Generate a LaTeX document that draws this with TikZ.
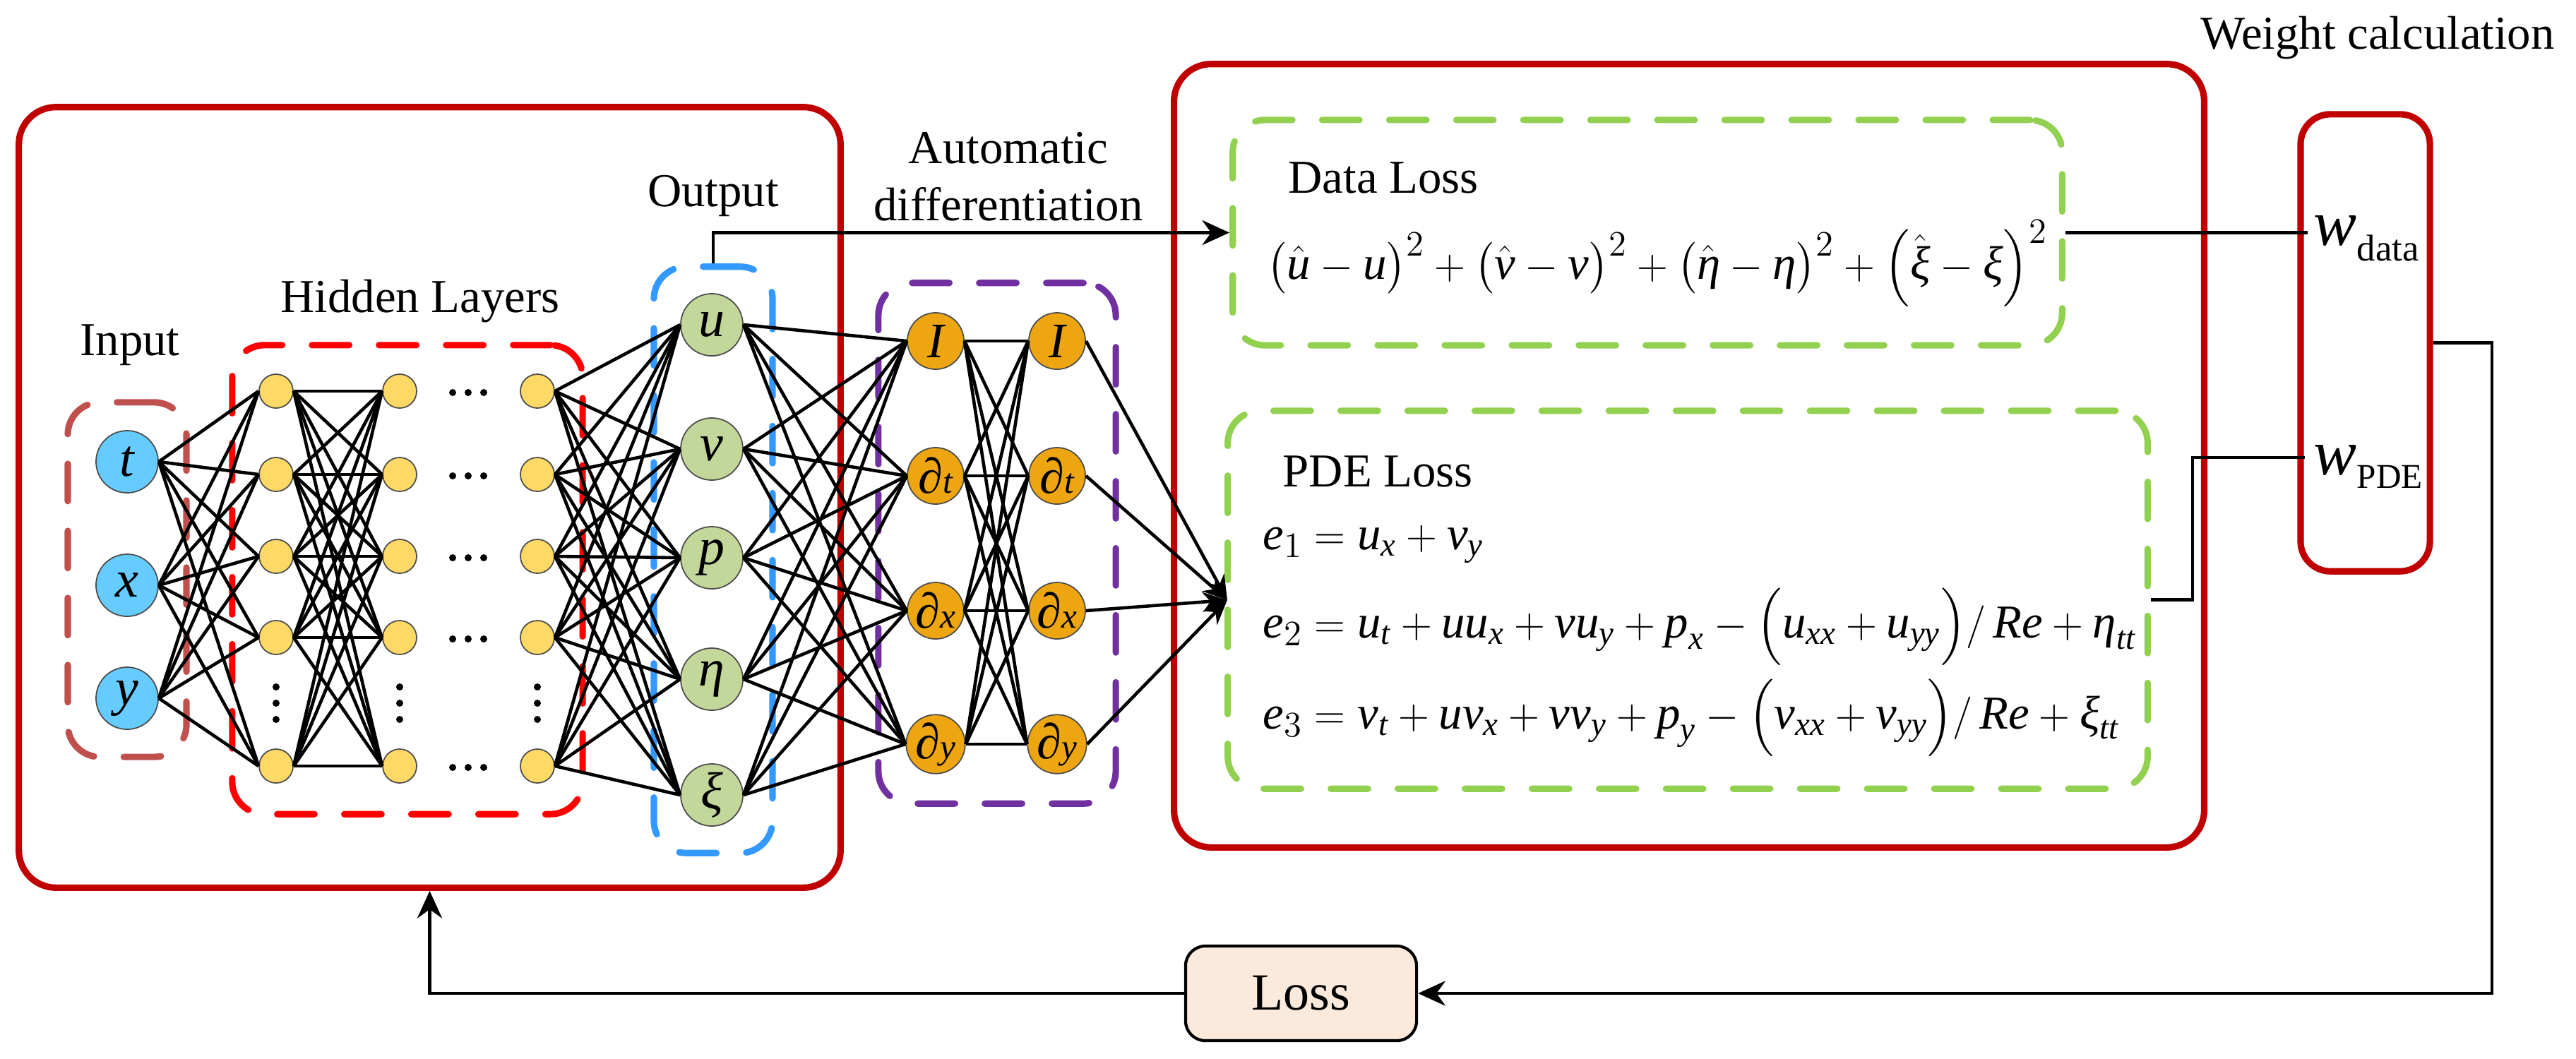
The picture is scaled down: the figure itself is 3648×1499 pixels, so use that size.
\documentclass[tikz,border=0pt]{standalone}
\usepackage{amsmath}
\usepackage{fontspec}
\setmainfont{Liberation Serif}
\usetikzlibrary{arrows.meta}
\newcommand{\vt}[1]{\textit{#1}}
\definecolor{boxred}{HTML}{C00000}
\definecolor{inred}{HTML}{C0504D}
\definecolor{hidred}{HTML}{FF0000}
\definecolor{outblue}{HTML}{3399FF}
\definecolor{adpurple}{HTML}{7030A0}
\definecolor{lossgreen}{HTML}{92D050}
\definecolor{inblue}{HTML}{66CCFF}
\definecolor{hidyel}{HTML}{FFD966}
\definecolor{outgreen}{HTML}{C4D79B}
\definecolor{adorange}{RGB}{237,166,18}
\definecolor{losspeach}{HTML}{FBE9DB}
\begin{document}
\begin{tikzpicture}[x=0.01cm,y=-0.01cm,
  bigbox/.style={draw=boxred, line width=2.6pt, rounded corners=15pt, inner sep=0pt},
  dbox/.style={line width=2.6pt, dash pattern=on 15pt off 12pt, line cap=round, rounded corners=13pt, inner sep=0pt},
  neu/.style={circle, draw=black!70, line width=0.5pt, inner sep=0pt},
  inn/.style={neu, fill=inblue, minimum size=0.88cm, font=\fontsize{21}{24}\selectfont\itshape},
  hid/.style={neu, fill=hidyel, minimum size=0.48cm},
  outn/.style={neu, fill=outgreen, minimum size=0.88cm, font=\fontsize{21}{24}\selectfont\itshape},
  adn/.style={neu, fill=adorange, minimum size=0.80cm, font=\fontsize{20}{23}\selectfont\itshape},
  lab/.style={font=\fontsize{19}{23}\selectfont, inner sep=0pt},
  eq/.style={font=\fontsize{19}{23}\selectfont, inner sep=0pt, anchor=base west},
  net/.style={line width=1.3pt},
  conn/.style={line width=1.2pt},
  tip/.style={-{Stealth[length=11pt,width=10pt]}},
  convtip/.style={-{Stealth[length=10pt,width=8pt]}}
]
\useasboundingbox (0,0) rectangle (3648,1499);

% big boxes
\node[bigbox, minimum width=11.63cm, minimum height=11.05cm] (leftbox) at (608.5,704.5) {};
\node[bigbox, minimum width=14.58cm, minimum height=11.09cm] (rightbox) at (2392,645.5) {};
\node[bigbox, minimum width=1.83cm, minimum height=6.47cm, rounded corners=12pt] (wbox) at (3349.5,485.5) {};

% dashed boxes
\node[dbox, draw=inred, minimum width=1.68cm, minimum height=5.02cm] (inbox) at (180,821) {};
\node[dbox, draw=hidred, minimum width=4.96cm, minimum height=6.64cm] (hidbox) at (577,821) {};
\node[dbox, draw=outblue, minimum width=1.68cm, minimum height=8.30cm] (outbox) at (1010,793) {};
\node[dbox, draw=adpurple, minimum width=3.36cm, minimum height=7.37cm] (adbox) at (1412,769.5) {};
\node[dbox, draw=lossgreen, minimum width=11.74cm, minimum height=3.19cm] (dataloss) at (2333,329.5) {};
\node[dbox, draw=lossgreen, minimum width=13.02cm, minimum height=5.35cm] (pdeloss) at (2390,849.5) {};

% loss box
\node[draw=black, line width=1.2pt, fill=losspeach, rounded corners=8pt, minimum width=3.27cm, minimum height=1.34cm, font=\fontsize{21}{25}\selectfont] (lossbox) at (1842.5,1407) {Loss};

% input nodes
\node[inn] (in1) at (180,654) {t};
\node[inn] (in2) at (180,829) {x};
\node[inn] (in3) at (180,989) {y};

% hidden nodes
\foreach \r/\yy in {1/554,2/672,3/788,4/903,5/1085} {
  \node[hid] (ha\r) at (391,\yy) {};
  \node[hid] (hb\r) at (566,\yy) {};
  \node[hid] (hc\r) at (761,\yy) {};
}
% ellipsis dots
\foreach \yy in {556,674,790,905,1087}
  \foreach \xx in {641,663,685}
    \fill (\xx,\yy) circle[radius=5];
\foreach \xx in {391,566,761}
  \foreach \yy in {973,996,1019}
    \fill (\xx,\yy) circle[radius=5];

% output nodes
\node[outn] (o1) at (1008,460) {u};
\node[outn] (o2) at (1008,636) {v};
\node[outn] (o3) at (1008,790) {p};
\node[outn] (o4) at (1008,962) {η};
\node[outn] (o5) at (1008,1126) {ξ};

% AD nodes
\node[adn] (da1) at (1325,483) {I};
\node[adn] (da2) at (1325,674) {∂{\fontsize{14}{14}\selectfont t}};
\node[adn] (da3) at (1325,865) {∂{\fontsize{14}{14}\selectfont x}};
\node[adn] (da4) at (1325,1054) {∂{\fontsize{14}{14}\selectfont y}};
\node[adn] (db1) at (1497,483) {I};
\node[adn] (db2) at (1497,674) {∂{\fontsize{14}{14}\selectfont t}};
\node[adn] (db3) at (1497,865) {∂{\fontsize{14}{14}\selectfont x}};
\node[adn] (db4) at (1497,1054) {∂{\fontsize{14}{14}\selectfont y}};

\coordinate (conv) at (1738,850);

% network connections
\foreach \i in {1,2,3} \foreach \j in {1,...,5} \draw[net] (in\i.east) -- (ha\j.west);
\foreach \i in {1,...,5} \foreach \j in {1,...,5} \draw[net] (ha\i.east) -- (hb\j.west);
\foreach \i in {1,...,5} \foreach \j in {1,...,5} \draw[net] (hc\i.east) -- (o\j.west);
\foreach \i in {1,...,5} \foreach \j in {1,...,4} \draw[net] (o\i.east) -- (da\j.west);
\foreach \i in {1,...,4} \foreach \j in {1,...,4} \draw[net] (da\i.east) -- (db\j.west);
\foreach \i in {1,...,4} \draw[net, convtip] (db\i.east) -- (conv);

% labels
\node[lab] (inlab) at (184,489) {Input};
\node[lab] (hidlab) at (595,427) {Hidden Layers};
\node[lab] (outlab) at (1010,277) {Output};
\node[lab, align=center] (adlab) at (1428,250) {Automatic\\differentiation};
\node[lab] (wlab) at (3367,54) {Weight calculation};
\node[lab, anchor=base west] (dltext) at (1824,273) {Data Loss};
\node[lab, anchor=base west] (pltext) at (1816,689) {PDE Loss};

% formulas
\node[eq] (dform) at (1794,395) {$\bigl(\hat{\vt{u}}-\vt{u}\bigr)^{2}+\bigl(\hat{\vt{v}}-\vt{v}\bigr)^{2}+\bigl(\hat{\vt{η}}-\vt{η}\bigr)^{2}+\Bigl(\hat{\vt{ξ}}-\vt{ξ}\Bigr)^{2}$};
\node[eq] (e1) at (1788,778) {$\vt{e}_{1}=\vt{u}_{\vt{x}}+\vt{v}_{\vt{y}}$};
\node[eq] (e2) at (1788,903) {$\vt{e}_{2}=\vt{u}_{\vt{t}}+\vt{uu}_{\vt{x}}+\vt{vu}_{\vt{y}}+\vt{p}_{\vt{x}}-\Bigl(\vt{u}_{\vt{xx}}+\vt{u}_{\vt{yy}}\Bigr)/\,\vt{Re}+\vt{η}_{\vt{tt}}$};
\node[eq] (e3) at (1788,1032) {$\vt{e}_{3}=\vt{v}_{\vt{t}}+\vt{uv}_{\vt{x}}+\vt{vv}_{\vt{y}}+\vt{p}_{\vt{y}}-\Bigl(\vt{v}_{\vt{xx}}+\vt{v}_{\vt{yy}}\Bigr)/\,\vt{Re}+\vt{ξ}_{\vt{tt}}$};

% weights
\node[inner sep=0pt, anchor=base west] (wdata) at (3276,347) {{\fontsize{26}{28}\selectfont\itshape w}\raisebox{-0.22cm}{\fontsize{15}{18}\selectfont data}};
\node[inner sep=0pt, anchor=base west] (wpde) at (3276,672) {{\fontsize{26}{28}\selectfont\itshape w}\raisebox{-0.19cm}{\fontsize{14}{17}\selectfont PDE}};
\coordinate (wdatain) at (3268,329.5);
\coordinate (wpdein) at (3264,648);

% connectors
\draw[conn, tip] (outbox.north) |- (dataloss.west);
\draw[conn] (dataloss.east) -- (wdatain);
\draw[conn] (pdeloss.east) -- ++(59,0) |- (wpdein);
\draw[conn, tip] (wbox.east) -- ++(83,0) |- (lossbox.east);
\draw[conn, tip] (lossbox.west) -| (leftbox.south);
\end{tikzpicture}
\end{document}
